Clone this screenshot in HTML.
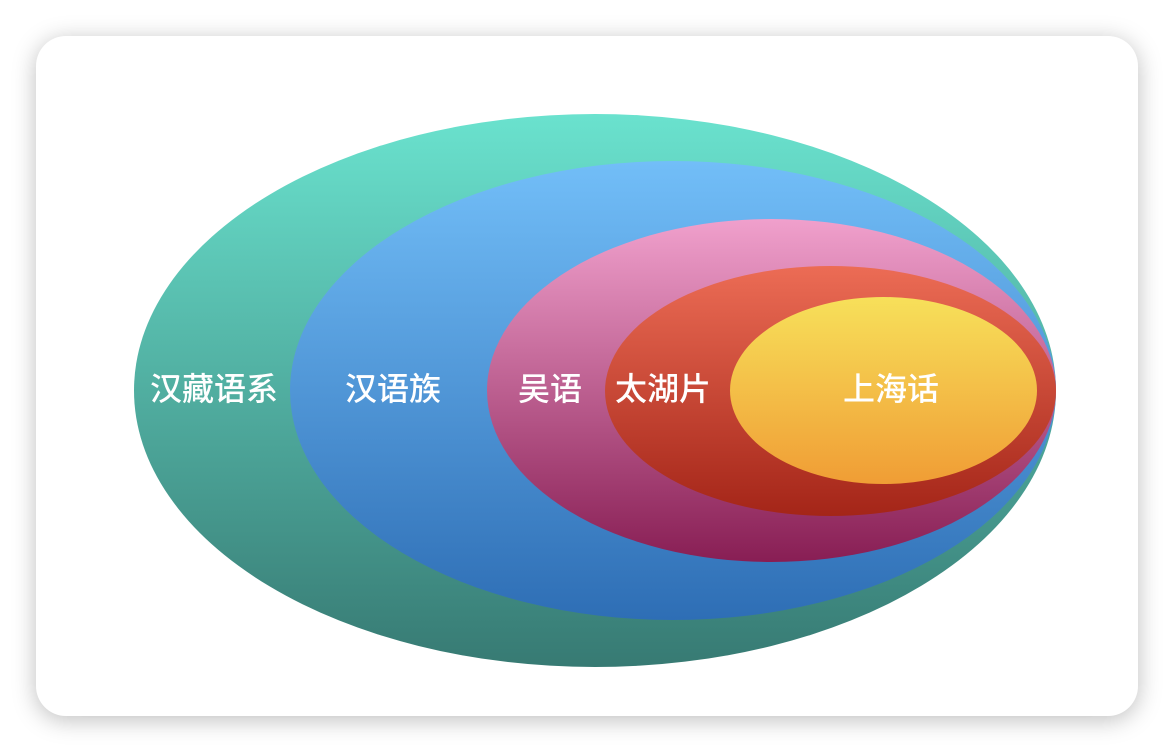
<!DOCTYPE html>
<html><head><meta charset="utf-8"><style>
html,body{margin:0;padding:0;background:#fff;width:1174px;height:752px;overflow:hidden}
.card{position:absolute;left:36px;top:36px;width:1102px;height:680px;background:#fff;border-radius:30px;box-shadow:0 4px 24px rgba(0,0,0,0.26)}
svg{position:absolute;left:0;top:0}
text{font-family:"Liberation Sans","Noto Sans CJK SC",sans-serif;font-size:32px;font-weight:500;fill:#fff;text-anchor:middle;dominant-baseline:central}
</style></head><body>
<div class="card"></div>
<svg width="1174" height="752" viewBox="0 0 1174 752">
<defs>
<linearGradient id="g1" x1="0" y1="0" x2="0" y2="1"><stop offset="0" stop-color="#6ae2ce"/><stop offset="1" stop-color="#377a73"/></linearGradient>
<linearGradient id="g2" x1="0" y1="0" x2="0" y2="1"><stop offset="0" stop-color="#72bef8"/><stop offset="1" stop-color="#2e6eb5"/></linearGradient>
<linearGradient id="g3" x1="0" y1="0" x2="0" y2="1"><stop offset="0" stop-color="#f0a0cc"/><stop offset="1" stop-color="#881e54"/></linearGradient>
<linearGradient id="g4" x1="0" y1="0" x2="0" y2="1"><stop offset="0" stop-color="#ec6c55"/><stop offset="1" stop-color="#a42518"/></linearGradient>
<linearGradient id="g5" x1="0" y1="0" x2="0" y2="1"><stop offset="0" stop-color="#f7e05a"/><stop offset="1" stop-color="#f09d35"/></linearGradient>
</defs>
<ellipse cx="595" cy="390.5" rx="461" ry="276.5" fill="url(#g1)"/>
<ellipse cx="673" cy="390.5" rx="383" ry="229.5" fill="url(#g2)"/>
<ellipse cx="771.5" cy="390.5" rx="284.5" ry="171.5" fill="url(#g3)"/>
<ellipse cx="830.5" cy="391" rx="225.5" ry="125" fill="url(#g4)"/>
<ellipse cx="883.5" cy="390.5" rx="153.5" ry="93.5" fill="url(#g5)"/>
<text x="214" y="389">汉藏语系</text>
<text x="393" y="389">汉语族</text>
<text x="550" y="389">吴语</text>
<text x="663" y="389">太湖片</text>
<text x="891" y="389">上海话</text>
</svg>
</body></html>
